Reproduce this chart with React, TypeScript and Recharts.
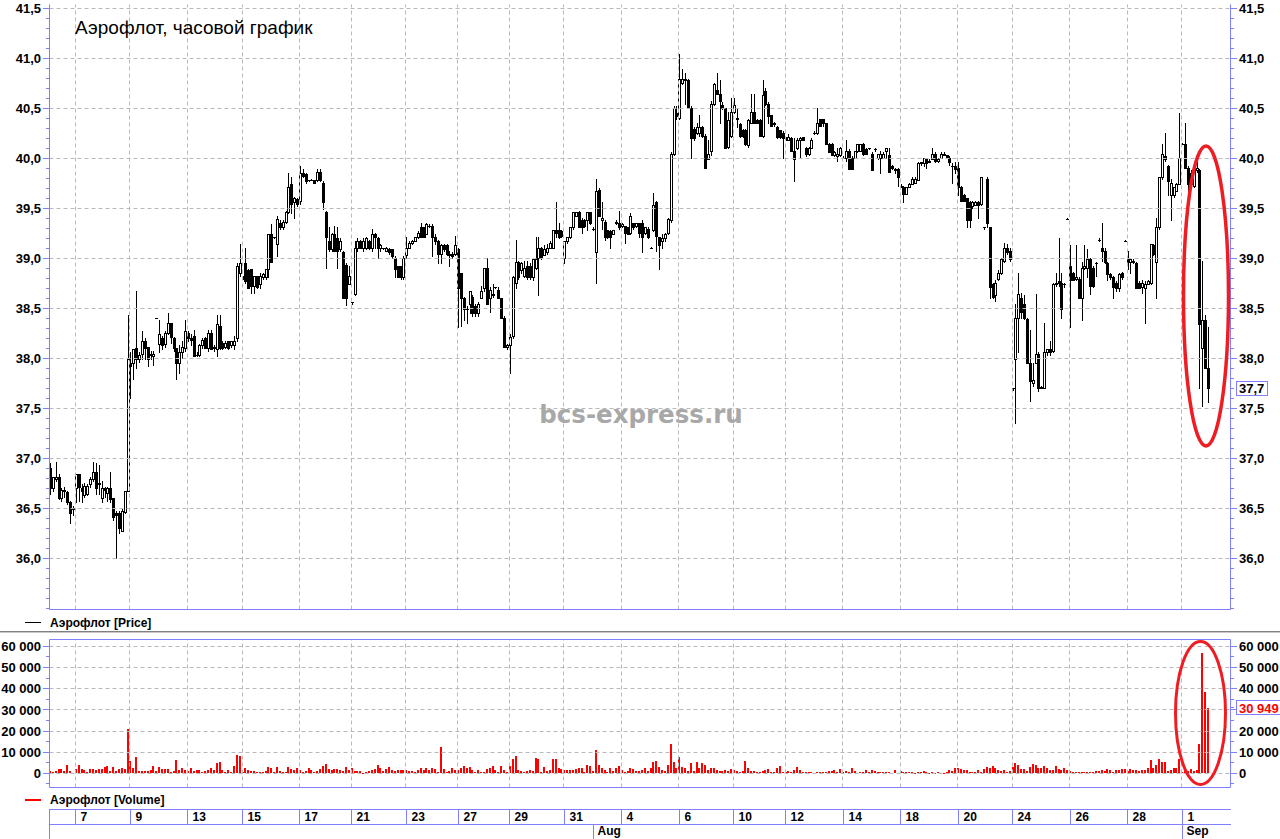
import React from "react";
import { ComposedChart, Bar, XAxis, YAxis, ReferenceLine } from "recharts";

const BLUE = "#8080ff";
const GRID = "#b9b9b9";
const FONT = "'Liberation Sans', Arial, sans-serif";

// trading days (2015)
const julyDays = ["07-06", "07-07", "07-08", "07-09", "07-10", "07-13", "07-14", "07-15", "07-16", "07-17",
  "07-20", "07-21", "07-22", "07-23", "07-24", "07-27", "07-28", "07-29", "07-30", "07-31"];
const augustDays = ["08-03", "08-04", "08-05", "08-06", "08-07", "08-10", "08-11", "08-12", "08-13", "08-14",
  "08-17", "08-18", "08-19", "08-20", "08-21", "08-24", "08-25", "08-26", "08-27", "08-28", "08-31"];
const septemberDays = ["09-01"];

// hourly candles for each day: [open, high, low, close]
const julyCandles = [
  [[36.91,36.95,36.65,36.70],[36.71,36.82,36.68,36.81],[36.80,36.97,36.78,36.82],[36.82,36.84,36.59,36.61],[36.61,36.70,36.58,36.69],[36.69,36.72,36.62,36.67],[36.67,36.68,36.55,36.56],[36.56,36.58,36.36,36.46],[36.50,36.52,36.44,36.51]],
  [[36.70,36.84,36.56,36.84],[36.84,36.84,36.58,36.72],[36.70,36.75,36.56,36.68],[36.64,36.76,36.62,36.73],[36.65,36.74,36.63,36.73],[36.74,36.81,36.72,36.80],[36.80,36.97,36.78,36.87],[36.87,36.96,36.65,36.71],[36.76,36.94,36.65,36.74],[36.61,36.78,36.56,36.71]],
  [[36.70,36.72,36.62,36.69],[36.66,36.72,36.58,36.70],[36.70,36.87,36.56,36.59],[36.60,36.60,36.39,36.42],[36.46,36.48,36.01,36.44],[36.45,36.48,36.26,36.31],[36.28,36.49,36.28,36.48],[36.47,36.67,36.45,36.67],[36.67,38.44,36.67,38.00]],
  [[37.95,38.06,37.61,37.92],[37.95,38.10,37.80,38.10],[38.10,38.68,37.91,38.00],[37.99,38.06,37.97,38.04],[38.05,38.27,37.99,38.17],[38.17,38.20,37.99,38.11],[38.12,38.12,37.93,37.99],[38.05,38.08,37.99,38.03],[38.02,38.08,37.94,38.05],[38.41,38.41,38.41,38.41]],
  [[38.15,38.38,38.06,38.24],[38.20,38.23,38.10,38.14],[38.15,38.27,38.12,38.26],[38.26,38.45,38.25,38.36],[38.35,38.35,38.16,38.21],[38.21,38.22,38.08,38.10],[38.10,38.11,37.80,37.95],[37.95,38.13,37.85,38.06],[38.06,38.18,38.01,38.12],[38.10,38.38,38.08,38.27]],
  [[38.26,38.27,38.18,38.20],[38.20,38.25,38.13,38.19],[38.23,38.28,38.02,38.03],[38.04,38.06,38.03,38.04],[38.04,38.15,38.02,38.13],[38.13,38.21,38.11,38.19],[38.20,38.22,38.11,38.11],[38.10,38.28,38.08,38.26],[38.26,38.28,38.10,38.10],[38.10,38.14,38.08,38.12]],
  [[38.10,38.44,38.03,38.35],[38.33,38.44,38.10,38.11],[38.16,38.17,38.10,38.11],[38.12,38.17,38.11,38.16],[38.17,38.18,38.10,38.11],[38.13,38.18,38.12,38.18],[38.13,38.23,38.10,38.18],[38.20,38.95,38.18,38.92],[38.85,39.14,38.82,38.95]],
  [[38.81,38.82,38.80,38.81],[38.95,39.10,38.76,38.77],[38.89,38.90,38.70,38.71],[38.89,38.90,38.66,38.73],[38.73,38.82,38.66,38.82],[38.83,38.83,38.70,38.71],[38.75,38.85,38.71,38.83],[38.81,38.85,38.80,38.84],[38.81,38.90,38.80,38.90],[38.90,39.24,38.81,39.24]],
  [[39.24,39.34,38.96,38.96],[39.21,39.22,39.20,39.21],[39.15,39.43,39.02,39.40],[39.36,39.38,39.30,39.31],[39.31,39.38,39.30,39.37],[39.37,39.48,39.36,39.47],[39.47,39.86,39.45,39.71],[39.74,39.81,39.45,39.55],[39.56,39.62,39.41,39.61],[39.59,39.60,39.52,39.55]],
  [[39.58,39.92,39.55,39.85],[39.85,39.89,39.82,39.83],[39.84,39.86,39.76,39.77],[39.78,39.79,39.77,39.78],[39.79,39.80,39.78,39.79],[39.78,39.79,39.75,39.76],[39.78,39.89,39.77,39.87],[39.87,39.90,39.77,39.78],[39.76,39.77,39.49,39.56]],
  [[39.46,39.48,38.91,39.21],[39.17,39.31,39.08,39.09],[39.09,39.26,39.08,39.25],[39.25,39.33,39.07,39.08],[39.20,39.32,38.91,39.08],[39.09,39.20,39.07,39.18],[39.07,39.08,38.60,38.60],[38.94,38.95,38.53,38.60],[38.75,38.93,38.74,38.83]],
  [[38.56,38.57,38.55,38.56],[38.65,39.18,38.63,39.11],[39.11,39.20,39.08,39.18],[39.18,39.19,39.10,39.11],[39.10,39.20,39.08,39.18],[39.10,39.21,39.09,39.20],[39.18,39.19,39.09,39.10],[39.11,39.30,39.08,39.25],[39.24,39.26,39.11,39.21],[39.20,39.21,39.01,39.11]],
  [[39.10,39.14,39.08,39.13],[39.10,39.11,39.09,39.10],[39.08,39.12,39.07,39.11],[39.09,39.10,39.05,39.06],[39.09,39.09,39.01,39.02],[39.01,39.02,38.81,38.90],[38.92,38.93,38.81,38.81],[38.92,38.93,38.80,38.81],[38.81,39.02,38.80,39.01]],
  [[39.03,39.21,39.01,39.11],[39.11,39.17,39.10,39.16],[39.16,39.19,39.15,39.18],[39.18,39.22,39.17,39.21],[39.21,39.27,39.20,39.26],[39.31,39.36,39.21,39.22],[39.31,39.32,39.21,39.22],[39.25,39.35,39.24,39.34],[39.32,39.34,39.31,39.33]],
  [[39.33,39.34,39.02,39.22],[39.22,39.24,39.14,39.17],[39.17,39.19,38.95,39.05],[39.05,39.14,38.95,39.13],[39.13,39.14,39.08,39.09],[39.13,39.14,39.04,39.05],[39.03,39.08,38.93,39.05],[39.05,39.06,39.01,39.02],[39.05,39.23,39.04,39.13]],
  [[39.09,39.10,38.31,38.71],[38.85,38.86,38.33,38.61],[38.61,38.62,38.38,38.50],[38.49,38.52,38.36,38.50],[38.55,38.68,38.45,38.67],[38.62,38.63,38.42,38.45],[38.52,38.55,38.42,38.45],[38.45,38.56,38.43,38.55],[38.61,38.73,38.60,38.68]],
  [[38.71,38.91,38.68,38.91],[38.91,39.01,38.55,38.55],[38.61,38.72,38.46,38.69],[38.63,38.75,38.62,38.65],[38.71,38.72,38.70,38.71],[38.69,38.72,38.60,38.60],[38.60,38.61,38.41,38.41],[38.41,38.42,38.12,38.12],[38.12,38.15,38.10,38.13]],
  [[38.13,38.25,37.85,38.22],[38.23,38.82,38.21,38.81],[38.76,39.19,38.71,38.96],[38.96,38.98,38.80,38.81],[38.88,38.96,38.85,38.95],[38.83,38.98,38.81,38.91],[38.93,38.98,38.80,38.81],[38.93,38.95,38.80,38.81],[38.81,39.00,38.78,39.00],[38.91,39.21,38.90,39.00]],
  [[39.01,39.21,38.63,39.11],[39.11,39.12,39.00,39.01],[39.04,39.13,39.03,39.09],[39.06,39.14,39.05,39.11],[39.11,39.17,39.10,39.16],[39.11,39.28,39.11,39.28],[39.28,39.56,39.22,39.26],[39.28,39.36,39.20,39.21],[39.27,39.28,39.22,39.23]],
  [[39.01,39.18,38.95,39.18],[39.17,39.22,39.16,39.21],[39.21,39.32,39.20,39.31],[39.31,39.46,39.30,39.46],[39.43,39.47,39.42,39.46],[39.46,39.48,39.31,39.31],[39.38,39.41,39.26,39.31],[39.38,39.39,39.31,39.32],[39.38,39.46,39.28,39.46],[39.46,39.47,39.34,39.35]],
];

const augustCandles = [
  [[39.30,39.31,39.29,39.30],[39.06,39.80,38.76,39.68],[39.69,39.70,39.42,39.43],[39.38,39.56,39.30,39.41],[39.37,39.38,39.19,39.22],[39.28,39.29,39.20,39.21],[39.27,39.28,39.11,39.22],[39.25,39.29,39.24,39.28],[39.35,39.38,39.34,39.37],[39.35,39.48,39.30,39.31]],
  [[39.32,39.35,39.31,39.34],[39.32,39.33,39.16,39.26],[39.31,39.32,39.24,39.25],[39.26,39.45,39.25,39.42],[39.35,39.36,39.30,39.31],[39.32,39.36,39.31,39.35],[39.35,39.36,39.21,39.26],[39.35,39.38,39.06,39.22],[39.26,39.32,39.25,39.31],[39.30,39.31,39.20,39.21]],
  [[39.11,39.12,39.10,39.11],[39.28,39.66,39.27,39.54],[39.57,39.58,39.07,39.23],[39.21,39.22,38.90,39.13],[39.18,39.25,39.11,39.20],[39.20,39.26,39.18,39.25],[39.26,39.41,39.25,39.40],[39.38,40.06,39.37,40.05],[40.05,40.52,40.04,40.50],[40.45,40.52,40.40,40.42]],
  [[40.41,41.05,40.40,40.80],[40.76,40.90,40.74,40.80],[40.80,40.85,40.55,40.78],[40.78,40.80,40.50,40.51],[40.51,40.52,40.01,40.20],[40.30,40.31,40.18,40.20],[40.26,40.36,40.24,40.31],[40.26,40.44,40.23,40.31],[40.31,40.32,40.22,40.23],[40.23,40.24,39.91,39.91]],
  [[40.00,40.18,39.99,40.05],[40.08,40.57,40.03,40.55],[40.55,40.75,40.53,40.74],[40.68,40.86,40.64,40.65],[40.65,40.78,40.35,40.58],[40.54,40.56,40.49,40.50],[40.50,40.51,40.11,40.11],[40.12,40.46,40.11,40.38],[40.23,40.60,40.22,40.46]],
  [[40.46,40.61,40.45,40.53],[40.39,40.51,40.31,40.41],[40.34,40.35,40.21,40.23],[40.29,40.30,40.22,40.23],[40.29,40.30,40.13,40.14],[40.13,40.39,40.12,40.38],[40.36,40.65,40.35,40.47],[40.47,40.65,40.35,40.36],[40.38,40.39,40.35,40.36]],
  [[40.38,40.40,40.23,40.23],[40.23,40.78,40.22,40.63],[40.67,40.70,40.53,40.55],[40.55,40.56,40.35,40.43],[40.43,40.44,40.32,40.33],[40.36,40.37,40.33,40.34],[40.31,40.32,40.20,40.21],[40.28,40.29,40.20,40.21],[40.26,40.27,40.01,40.20]],
  [[40.20,40.22,40.19,40.21],[40.19,40.25,40.18,40.21],[40.20,40.21,40.08,40.08],[40.08,40.20,39.77,40.00],[40.10,40.20,40.09,40.19],[40.19,40.21,40.00,40.20],[40.21,40.22,40.18,40.19],[40.11,40.12,40.02,40.05],[40.05,40.12,40.03,40.11],[40.11,40.20,40.10,40.19]],
  [[40.26,40.27,40.25,40.26],[40.26,40.51,40.25,40.36],[40.39,40.40,40.32,40.33],[40.39,40.40,40.32,40.35],[40.35,40.36,40.15,40.15],[40.15,40.16,40.06,40.06],[40.15,40.16,40.03,40.03],[40.03,40.07,40.02,40.06],[40.02,40.11,39.98,40.05],[40.03,40.12,40.02,40.11]],
  [[40.01,40.02,40.00,40.01],[40.01,40.18,39.98,40.08],[40.08,40.09,39.90,39.90],[40.01,40.02,39.90,39.90],[40.01,40.08,40.00,40.08],[40.07,40.15,40.06,40.14],[40.08,40.15,40.07,40.14],[40.15,40.16,40.03,40.05],[40.09,40.10,40.05,40.05],[40.10,40.11,40.09,40.10]],
  [[40.05,40.06,39.88,39.88],[40.09,40.10,40.08,40.09],[40.01,40.05,39.99,40.05],[40.01,40.08,39.85,40.05],[40.01,40.06,40.00,40.05],[40.07,40.11,40.00,40.10],[40.03,40.10,39.87,39.87],[39.93,39.94,39.89,39.91],[39.90,39.91,39.85,39.88],[39.90,39.91,39.73,39.81]],
  [[39.73,39.74,39.72,39.73],[39.72,39.73,39.56,39.65],[39.65,39.72,39.64,39.72],[39.72,39.75,39.71,39.74],[39.75,39.81,39.74,39.80],[39.76,39.82,39.75,39.80],[39.79,39.96,39.78,39.95],[39.95,39.97,39.94,39.96],[39.95,40.00,39.92,40.00],[40.00,40.00,39.91,39.95]],
  [[39.98,39.99,39.96,39.97],[40.00,40.10,39.99,40.05],[40.05,40.06,39.97,39.98],[39.98,40.01,39.97,40.00],[40.01,40.06,40.00,40.05],[40.04,40.06,40.03,40.05],[40.03,40.04,40.00,40.01],[40.00,40.02,39.94,39.96],[39.92,39.95,39.75,39.93],[39.92,39.96,39.86,39.89]],
  [[39.91,39.96,39.63,39.72],[39.72,39.73,39.58,39.58],[39.63,39.64,39.57,39.57],[39.60,39.61,39.31,39.38],[39.56,39.57,39.32,39.38],[39.52,39.57,39.51,39.56],[39.54,39.57,39.53,39.56],[39.57,39.58,39.41,39.54],[39.55,39.81,39.54,39.81],[39.31,39.32,39.30,39.31]],
  [[39.80,39.81,39.31,39.35],[39.31,39.32,38.61,38.72],[38.75,38.76,38.60,38.62],[38.63,38.78,38.58,38.76],[38.80,38.88,38.79,38.86],[38.85,39.01,38.84,38.99],[38.98,39.16,38.97,39.10],[39.10,39.14,39.05,39.07],[39.08,39.10,38.98,39.00]],
  [[37.70,37.71,37.69,37.70],[38.00,38.55,37.36,38.41],[38.41,38.85,38.06,38.65],[38.61,38.66,38.41,38.46],[38.55,38.63,38.40,38.41],[38.40,38.41,37.96,37.96],[37.96,38.28,37.58,37.78],[37.76,37.95,37.73,37.79],[37.96,38.65,37.95,38.05],[38.05,38.06,37.68,37.71]],
  [[37.71,37.73,37.70,37.72],[37.71,38.35,37.70,38.06],[38.06,38.10,38.04,38.09],[38.09,38.17,38.04,38.06],[38.08,38.76,38.07,38.75],[38.75,38.85,38.73,38.76],[38.77,39.20,38.73,38.76],[38.76,38.86,38.41,38.50],[38.74,38.76,38.72,38.74],[39.40,39.41,39.39,39.40]],
  [[38.92,39.13,38.31,38.79],[38.86,38.87,38.79,38.79],[38.80,39.13,38.78,38.81],[38.80,38.81,38.61,38.61],[38.61,38.96,38.38,38.91],[38.91,39.13,38.90,38.93],[38.91,39.09,38.81,38.99],[38.99,39.01,38.65,38.73],[38.91,38.92,38.72,38.73],[38.95,38.96,38.82,38.95]],
  [[39.19,39.20,39.18,39.19],[39.11,39.36,38.98,39.08],[39.08,39.10,38.95,38.96],[38.95,38.96,38.79,38.84],[38.84,38.85,38.80,38.81],[38.81,38.82,38.60,38.71],[38.76,38.77,38.68,38.71],[38.71,38.86,38.68,38.84],[38.86,38.87,38.80,38.82],[39.18,39.19,39.17,39.18]],
  [[39.00,39.08,38.90,38.97],[38.96,39.00,38.86,38.99],[38.96,38.99,38.95,38.98],[38.96,38.97,38.70,38.71],[38.76,38.77,38.70,38.71],[38.71,38.78,38.66,38.76],[38.71,38.77,38.36,38.75],[38.75,38.78,38.74,38.77],[38.76,39.15,38.75,39.15],[39.13,39.14,39.04,39.05]],
  [[38.96,39.41,38.61,39.31],[39.31,39.81,39.30,39.81],[39.81,40.15,39.80,40.05],[40.02,40.26,39.98,40.00],[39.93,39.94,39.63,39.77],[39.63,39.80,39.38,39.76],[39.63,39.72,39.62,39.71],[39.68,39.76,39.67,39.75],[39.75,40.45,39.74,40.01]],
];

const septemberCandles = [
  [[40.15,40.16,40.14,40.15],[40.15,40.35,39.91,39.91],[39.91,39.92,39.61,39.75],[39.75,39.88,39.72,39.86],[39.73,39.91,39.72,39.90],[39.88,40.00,39.87,39.91],[39.88,39.89,37.71,38.34],[38.10,38.98,37.52,38.38],[38.38,38.44,37.91,37.91],[37.91,38.31,37.56,37.70]],
];

// hourly volume for each day
const julyVolumes = [
  [1100,600,900,2000,2000,1100,3800,1100,400],
  [2000,4200,2000,1600,500,1900,1900,1600,1900,2000],
  [2800,3600,1200,2800,1200,2000,2400,2000,21000],
  [5800,2400,7900,1100,1100,1100,1100,1600,3600,1100],
  [3200,2000,1900,2000,800,1200,6300,1600,2400,1600],
  [1100,2400,1100,1600,1600,800,1100,1600,2400,1600],
  [4700,5500,1600,500,1600,600,3600,8800,8300],
  [500,2700,1400,1200,900,800,800,800,900,3200],
  [2400,600,3200,1100,500,600,2800,2200,1600,2500],
  [1600,600,1200,2400,1600,500,1000,2200,3600],
  [4400,2000,1700,2000,2000,1600,1200,3200,1600],
  [2700,1200,1200,1100,300,500,1100,1600,1900,4100],
  [2400,1200,2000,2800,1600,1100,1600,1400,1600],
  [1600,1200,1200,800,1600,2400,1700,2400,1600],
  [2400,2000,500,12600,1900,600,1200,2400,1600],
  [1600,2400,3600,2400,3200,1600,500,1600,800],
  [800,2000,2400,3600,1600,500,3600,1600,800],
  [3600,6800,8200,1600,1100,600,1100,1600,1200,7500],
  [7000,800,2800,1100,1600,6600,6600,2400,2000],
  [1600,1600,1600,1600,1900,2700,2400,800,3900,3600],
];

const augustVolumes = [
  [1100,11000,4200,2400,1600,500,2700,1200,2400,3600],
  [1600,500,1100,2400,1900,1100,1100,1600,2400,1200],
  [2400,5500,6000,3200,1600,1100,3900,14000,5500,2400],
  [7600,3200,2400,1200,4700,1200,5500,2400,4700,3900],
  [1600,2400,2400,1600,1200,1100,1600,1100,1900],
  [1600,1100,500,1200,5800,2400,1200,1200,600],
  [800,1100,1600,1900,800,500,2400,3600,600],
  [800,1100,600,1600,3200,1600,500,800,500,800],
  [300,500,600,800,800,1200,900,1600,600,1900],
  [600,1200,500,2700,1200,300,800,800,1600,800],
  [1600,1100,800,800,500,600,500,300,1600,300],
  [1200,800,500,500,600,300,500,500,900,500],
  [300,600,300,600,300,300,600,1600,1200,2400],
  [2400,2000,1700,1600,500,600,800,1600,600,1900],
  [2800,2400,3600,2400,1600,1100,1600,800,1100],
  [3200,5000,4200,2200,1900,1200,2800,4500,3900,2400],
  [2400,3600,2400,1600,1600,3600,2000,1400,2400,1600],
  [1200,500,600,500,500,600,800,600,500,1100],
  [1100,1600,1200,1900,1600,800,1600,1600,1900,2000],
  [1100,2200,1600,1400,1200,1600,1600,2400,6300,2400],
  [3800,6800,5500,5200,1200,1600,2400,2400,7000],
];

const septemberVolumes = [
  [800,1600,1200,1900,1200,1500,14000,57000,38500,30949],
];

const labeledDays = ["07-07", "07-09", "07-13", "07-15", "07-17", "07-21", "07-23", "07-27", "07-29", "07-31",
  "08-04", "08-06", "08-10", "08-12", "08-14", "08-18", "08-20", "08-24", "08-26", "08-28", "09-01"];
const monthStartDays = ["08-03", "09-01"];
const monthNames = ["Aug", "Sep"];

const priceTicks = [36.0, 36.5, 37.0, 37.5, 38.0, 38.5, 39.0, 39.5, 40.0, 40.5, 41.0, 41.5];
const volumeTicks = [0, 10000, 20000, 30000, 40000, 50000, 60000];

// layout
const W = 1280;
const PLOT_W = 1181;
const EMPTY_SLOTS = 7;

type Row = { key: string; o?: number; h?: number; l?: number; c?: number; hl?: number[]; vol?: number };

const allDays = [...julyDays, ...augustDays, ...septemberDays];
const allCandles = [...julyCandles, ...augustCandles, ...septemberCandles];
const allVolumes = [...julyVolumes, ...augustVolumes, ...septemberVolumes];

const rows: Row[] = [];
allDays.forEach((d, di) => {
  allCandles[di].forEach((cd, k) => {
    rows.push({ key: `${d}-${k}`, o: cd[0], h: cd[1], l: cd[2], c: cd[3], hl: [cd[2], cd[1]], vol: allVolumes[di]?.[k] ?? 0 });
  });
});
for (let i = 0; i < EMPTY_SLOTS; i++) rows.push({ key: `empty-${i}` });

const lastReal = rows.filter((r) => r.o != null);
const lastClose = lastReal[lastReal.length - 1].c as number;
const lastVolume = lastReal[lastReal.length - 1].vol as number;
const SLOT = PLOT_W / rows.length;

const priceMinor: number[] = [];
for (let i = 355; i <= 415; i++) priceMinor.push(i / 10);
const volumeMinor: number[] = [];
for (let i = -1; i <= 12; i++) volumeMinor.push(i * 5000);

const fmtPrice = (v: number) => v.toFixed(1).replace(".", ",");
const fmtVolume = (v: number) => String(v).replace(/\B(?=(\d{3})+(?!\d))/g, " ");

const labelStyle = { fontFamily: FONT, fontSize: 13, fontWeight: 700 };

const makeTick = (side: "left" | "right", majors: number[], fmt: (v: number) => string, marker?: number, markerColor?: string, markerWidth?: number) =>
  (props: any) => {
    const { x, y, payload } = props;
    const v: number = payload.value;
    const yy = Math.floor(y) + 0.5;
    const isMajor = majors.some((m) => Math.abs(m - v) < 1e-6);
    const isMarker = marker !== undefined && Math.abs(marker - v) < 1e-6;
    const len = isMajor ? 6 : 3;
    if (side === "left") {
      const ax = Math.floor(x);
      return (
        <g>
          <line x1={ax - len} x2={ax} y1={yy} y2={yy} stroke={BLUE} />
          {isMajor && <text x={ax - 8} y={y} dy="0.36em" textAnchor="end" fill="#000" style={labelStyle}>{fmt(v)}</text>}
        </g>
      );
    }
    const ax = Math.ceil(x);
    return (
      <g>
        <line x1={ax} x2={ax + len} y1={yy} y2={yy} stroke={BLUE} />
        {isMajor && !isMarker && <text x={ax + 8} y={y} dy="0.36em" fill="#000" style={labelStyle}>{fmt(v)}</text>}
        {isMarker && (
          <g>
            <rect x={ax + 5.5} y={Math.floor(y) - 6.5} width={markerWidth} height={14} fill="#fff" stroke={BLUE} />
            <text x={ax + 8} y={y} dy="0.36em" fill={markerColor} style={labelStyle}>{fmt(v)}</text>
          </g>
        )}
      </g>
    );
  };

const Candle = (props: any) => {
  const { x, y, width, height, payload } = props;
  if (!payload || payload.o == null || !Number.isFinite(y)) return null;
  const { o, h, l, c } = payload;
  const k = h > l ? height / (h - l) : 0;
  const py = (v: number) => y + (h - v) * k;
  const cx = Math.floor(x + width / 2);
  const top = Math.round(py(Math.max(o, c)));
  const bot = Math.round(py(Math.min(o, c)));
  const yh = Math.round(py(h));
  const yl = Math.round(py(l));
  const up = c > o;
  return (
    <g>
      <line x1={cx + 0.5} x2={cx + 0.5} y1={yh} y2={yl + 1} stroke="#000" />
      {bot - top < 1 ? (
        <line x1={cx - 1} x2={cx + 2} y1={top + 0.5} y2={top + 0.5} stroke="#000" />
      ) : (
        <rect x={cx - 0.5} y={top + 0.5} width={2} height={bot - top} fill={up ? "#fff" : "#000"} stroke="#000" />
      )}
    </g>
  );
};

const VolumeBar = (props: any) => {
  const { x, y, width, height } = props;
  if (!Number.isFinite(height) || height <= 0) return null;
  const cx = Math.floor(x + width / 2);
  const top = Math.round(y);
  const bot = Math.round(y + height);
  return <rect x={cx - 1} y={top} width={2} height={Math.max(1, bot - top)} fill="#ff0000" />;
};

const GridLine = (props: any) => {
  const { x1, y1, x2, y2 } = props;
  if (Math.abs(x1 - x2) < 0.01) {
    const gx = Math.floor(x1) + 0.5;
    return <line x1={gx} x2={gx} y1={y1} y2={y2} stroke={GRID} strokeDasharray="4 3" />;
  }
  const gy = Math.floor(y1) + 0.5;
  return <line x1={x1} x2={x2} y1={gy} y2={gy} stroke={GRID} strokeDasharray="4 3" />;
};

const DateTick = (props: any) => {
  const { x, y, payload } = props;
  const day = String(payload.value).slice(0, 5);
  const sx = Math.round(x - SLOT / 2) + 0.5;
  const top = Math.round(y) + 21;
  const isLabeled = labeledDays.includes(day);
  const mi = monthStartDays.indexOf(day);
  const dayStyle = { fontFamily: FONT, fontSize: 12, fontWeight: 700 };
  return (
    <g>
      {isLabeled && (
        <g>
          <line x1={sx} x2={sx} y1={top} y2={top + 15} stroke={BLUE} />
          <text x={sx + 5} y={top + 12} fill="#000" style={dayStyle}>{Number(day.slice(3))}</text>
        </g>
      )}
      {mi >= 0 && (
        <g>
          <line x1={sx} x2={sx} y1={top + 15} y2={top + 30} stroke={BLUE} />
          <text x={sx + 4} y={top + 26} fill="#000" style={dayStyle}>{monthNames[mi]}</text>
        </g>
      )}
    </g>
  );
};

const dayKeys = labeledDays.map((d) => `${d}-0`);
const dateAxisKeys = Array.from(new Set([...labeledDays, ...monthStartDays])).map((d) => `${d}-0`);

export default function App() {
  return (
    <div style={{ position: "absolute", left: 0, top: 0, width: W, height: 839, background: "#fff", overflow: "hidden" }}>
      <div style={{ position: "absolute", left: 0, top: 0 }}>
        <ComposedChart width={W} height={611} data={rows} margin={{ top: 4.5, right: 0.5, bottom: 0, left: 0.5 }}>
          <XAxis dataKey="key" height={1.5} tick={false} tickLine={false} axisLine={{ stroke: BLUE }} />
          <YAxis yAxisId="p" orientation="left" width={49} domain={[35.49, 41.54]} allowDataOverflow type="number"
            ticks={priceMinor} interval={0} tickSize={0} tickMargin={0} tickLine={false} axisLine={{ stroke: BLUE }}
            tick={makeTick("left", priceTicks, fmtPrice)} />
          <YAxis yAxisId="pr" orientation="right" width={49} domain={[35.49, 41.54]} allowDataOverflow type="number"
            ticks={priceMinor} interval={0} tickSize={0} tickMargin={0} tickLine={false} axisLine={{ stroke: BLUE }}
            tick={makeTick("right", priceTicks, fmtPrice, lastClose, "#000", 31)} />
          {priceTicks.map((v) => (
            <ReferenceLine key={`ph-${v}`} yAxisId="p" y={v} shape={GridLine} />
          ))}
          {dayKeys.map((k) => (
            <ReferenceLine key={`pv-${k}`} yAxisId="p" x={k} position="start" shape={GridLine} />
          ))}
          <Bar yAxisId="p" dataKey="hl" barSize={2} shape={(p: any) => <Candle {...p} />} isAnimationActive={false} />
        </ComposedChart>
      </div>

      <div style={{ position: "absolute", left: 0, top: 636 }}>
        <ComposedChart width={W} height={203} data={rows} margin={{ top: 3.5, right: 0.5, bottom: 0, left: 0.5 }}>
          <XAxis dataKey="key" height={51.5} ticks={dateAxisKeys} interval={0} tickSize={0} tickMargin={0}
            tickLine={false} axisLine={{ stroke: BLUE }} tick={<DateTick />} />
          <YAxis yAxisId="v" orientation="left" width={49} domain={[-6660, 63250]} allowDataOverflow type="number"
            ticks={volumeMinor} interval={0} tickSize={0} tickMargin={0} tickLine={false} axisLine={{ stroke: BLUE }}
            tick={makeTick("left", volumeTicks, fmtVolume)} />
          <YAxis yAxisId="vr" orientation="right" width={49} domain={[-6660, 63250]} allowDataOverflow type="number"
            ticks={[...volumeMinor, lastVolume]} interval={0} tickSize={0} tickMargin={0} tickLine={false} axisLine={{ stroke: BLUE }}
            tick={makeTick("right", volumeTicks, fmtVolume, lastVolume, "#ff0000", 46)} />
          {volumeTicks.map((v) => (
            <ReferenceLine key={`vh-${v}`} yAxisId="v" y={v} shape={GridLine} />
          ))}
          {dayKeys.map((k) => (
            <ReferenceLine key={`vv-${k}`} yAxisId="v" x={k} position="start" shape={GridLine} />
          ))}
          <Bar yAxisId="v" dataKey="vol" barSize={2} shape={(p: any) => <VolumeBar {...p} />} isAnimationActive={false} />
        </ComposedChart>
      </div>

      <svg width={W} height={839} style={{ position: "absolute", left: 0, top: 0, pointerEvents: "none" }}>
        <text x={75} y={34} fill="#000" style={{ fontFamily: FONT, fontSize: 19 }}>Аэрофлот, часовой график</text>
        <text x={641} y={423} textAnchor="middle" fill="#a8a8a8" style={{ fontFamily: "'DejaVu Sans', sans-serif", fontSize: 24.5, fontWeight: 700 }}>bcs-express.ru</text>

        <line x1={25} x2={41} y1={622.5} y2={622.5} stroke="#000" />
        <text x={50} y={627} fill="#000" style={{ fontFamily: FONT, fontSize: 12, fontWeight: 700 }}>Аэрофлот [Price]</text>

        <rect x={0} y={631} width={W} height={1} fill="#808080" />
        <rect x={0} y={632} width={W} height={1} fill="#c8c8c8" />

        <line x1={49.5} x2={1230.5} y1={639.5} y2={639.5} stroke={BLUE} />

        <rect x={25} y={799} width={16} height={2} fill="#ff0000" />
        <text x={50} y={804} fill="#000" style={{ fontFamily: FONT, fontSize: 12, fontWeight: 700 }}>Аэрофлот [Volume]</text>

        <line x1={49} x2={1231} y1={809.5} y2={809.5} stroke={BLUE} />
        <line x1={49} x2={1231} y1={824.5} y2={824.5} stroke={BLUE} />
        <line x1={49.5} x2={49.5} y1={809} y2={839} stroke={BLUE} />

        {/* highlight ellipses around the last session */}
        <ellipse cx={1206} cy={296} rx={22.5} ry={150} fill="none" stroke="#ee1d23" strokeWidth={3.5} />
        <ellipse cx={1200.5} cy={713} rx={25} ry={71.5} fill="none" stroke="#ee1d23" strokeWidth={3} />
      </svg>
    </div>
  );
}
